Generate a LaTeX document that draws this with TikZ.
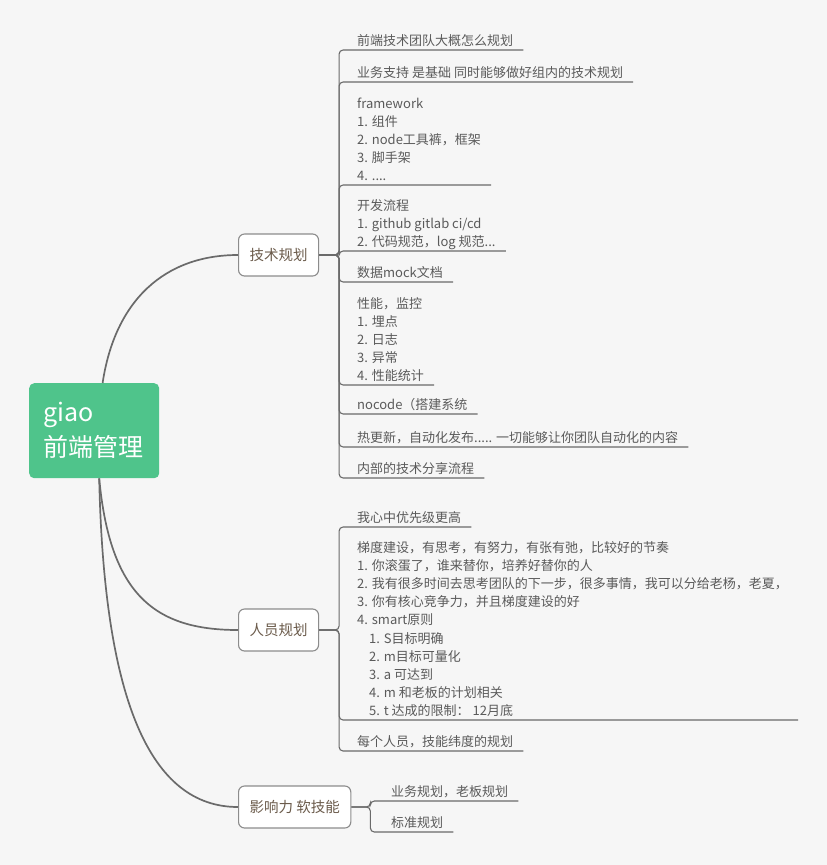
\documentclass[tikz,border=0pt]{standalone}
\usepackage{fontspec}
\setmainfont{Noto Sans CJK SC}
\definecolor{bgcol}{HTML}{F6F6F6}
\definecolor{rootgreen}{HTML}{4FC48B}
\definecolor{linecol}{HTML}{6A6A6A}
\definecolor{boxline}{HTML}{8C8C8C}
\definecolor{boxtext}{HTML}{6B5B4B}
\definecolor{itemtext}{HTML}{5A5A5A}
\tikzset{
  rootbox/.style={fill=rootgreen, rounded corners=5pt, text=white,
    font=\fontsize{25}{35}\selectfont, align=left, minimum width=130pt,
    minimum height=95pt, text width=102pt, inner xsep=14pt, anchor=north west},
  topic/.style={draw=boxline, line width=1.1pt, fill=white, rounded corners=6pt,
    text=boxtext, font=\fontsize{14.5}{18}\selectfont, minimum height=42pt,
    inner xsep=11pt, anchor=west},
  item/.style={text=itemtext, font=\fontsize{13}{18.2}\selectfont, align=left,
    inner sep=0pt, text depth=4pt, anchor=south west},
  curve/.style={draw=linecol, line width=1.7pt},
  elbow/.style={draw=linecol, line width=1.1pt, rounded corners=4pt},
}
\begin{document}
\begin{tikzpicture}[x=1pt,y=-1pt]
  \fill[bgcol] (0,0) rectangle (827,865);
  \useasboundingbox (0,0) rectangle (827,865);
  % root and main topics
  \node[rootbox] (root) at (29,383) {giao\\前端管理};
  \node[topic] (tech) at (238,255) {技术规划};
  \node[topic] (people) at (238,630) {人员规划};
  \node[topic] (infl) at (238,807) {影响力 软技能};
  \draw[curve] (root.80) .. controls (115,300) and (165,255) .. (tech.west);
  \draw[curve] (root.-84) .. controls (110,595) and (155,630) .. (people.west);
  \draw[curve] (root.-84) .. controls (104,700) and (150,807) .. (infl.west);
  % 技术规划
  \coordinate (tj) at ([xshift=20pt]tech.east);
  \node[item] (t1) at (357,50) {前端技术团队大概怎么规划};
  \node[item] (t2) at (357,82) {业务支持 是基础 同时能够做好组内的技术规划};
  \node[item] (t3) at (357,185) {framework\\1. 组件\\2. node工具裤，框架\\3. 脚手架\\4. ....};
  \node[item] (t4) at (357,251) {开发流程\\1. github gitlab ci/cd\\2. 代码规范，log 规范...};
  \node[item] (t5) at (357,282) {数据mock文档};
  \node[item] (t6) at (357,385) {性能，监控\\1. 埋点\\2. 日志\\3. 异常\\4. 性能统计};
  \node[item] (t7) at (357,414) {nocode（搭建系统};
  \node[item] (t8) at (357,447) {热更新，自动化发布..... 一切能够让你团队自动化的内容};
  \node[item] (t9) at (357,478) {内部的技术分享流程};
  \draw[elbow] (tech.east) -- (tj) |- ([xshift=10pt]t1.south east);
  \draw[elbow] (tech.east) -- (tj) |- ([xshift=10pt]t2.south east);
  \draw[elbow] (tech.east) -- (tj) |- ([xshift=10pt]t3.south east);
  \draw[elbow] (tech.east) -- (tj) |- ([xshift=10pt]t4.south east);
  \draw[elbow] (tech.east) -- (tj) |- ([xshift=10pt]t5.south east);
  \draw[elbow] (tech.east) -- (tj) |- ([xshift=10pt]t6.south east);
  \draw[elbow] (tech.east) -- (tj) |- ([xshift=10pt]t7.south east);
  \draw[elbow] (tech.east) -- (tj) |- ([xshift=10pt]t8.south east);
  \draw[elbow] (tech.east) -- (tj) |- ([xshift=10pt]t9.south east);
  % 人员规划
  \coordinate (pj) at ([xshift=20pt]people.east);
  \node[item] (p1) at (357,527) {我心中优先级更高};
  \node[item] (p2) at (357,720) {梯度建设，有思考，有努力，有张有弛，比较好的节奏\\
    1. 你滚蛋了，谁来替你，培养好替你的人\\
    2. 我有很多时间去思考团队的下一步，很多事情，我可以分给老杨，老夏，\\
    3. 你有核心竞争力，并且梯度建设的好\\
    4. smart原则\\
    \hspace*{12pt}1. S目标明确\\
    \hspace*{12pt}2. m目标可量化\\
    \hspace*{12pt}3. a 可达到\\
    \hspace*{12pt}4. m 和老板的计划相关\\
    \hspace*{12pt}5. t 达成的限制： 12月底};
  \node[item] (p3) at (357,751) {每个人员，技能纬度的规划};
  \draw[elbow] (people.east) -- (pj) |- ([xshift=10pt]p1.south east);
  \draw[elbow] (people.east) -- (pj) |- ([xshift=10pt]p2.south east);
  \draw[elbow] (people.east) -- (pj) |- ([xshift=10pt]p3.south east);
  % 影响力 软技能
  \coordinate (ij) at ([xshift=19pt]infl.east);
  \node[item] (i1) at (391,801) {业务规划，老板规划};
  \node[item] (i2) at (391,832) {标准规划};
  \draw[elbow] (infl.east) -- (ij) |- ([xshift=10pt]i1.south east);
  \draw[elbow] (infl.east) -- (ij) |- ([xshift=10pt]i2.south east);
\end{tikzpicture}
\end{document}
